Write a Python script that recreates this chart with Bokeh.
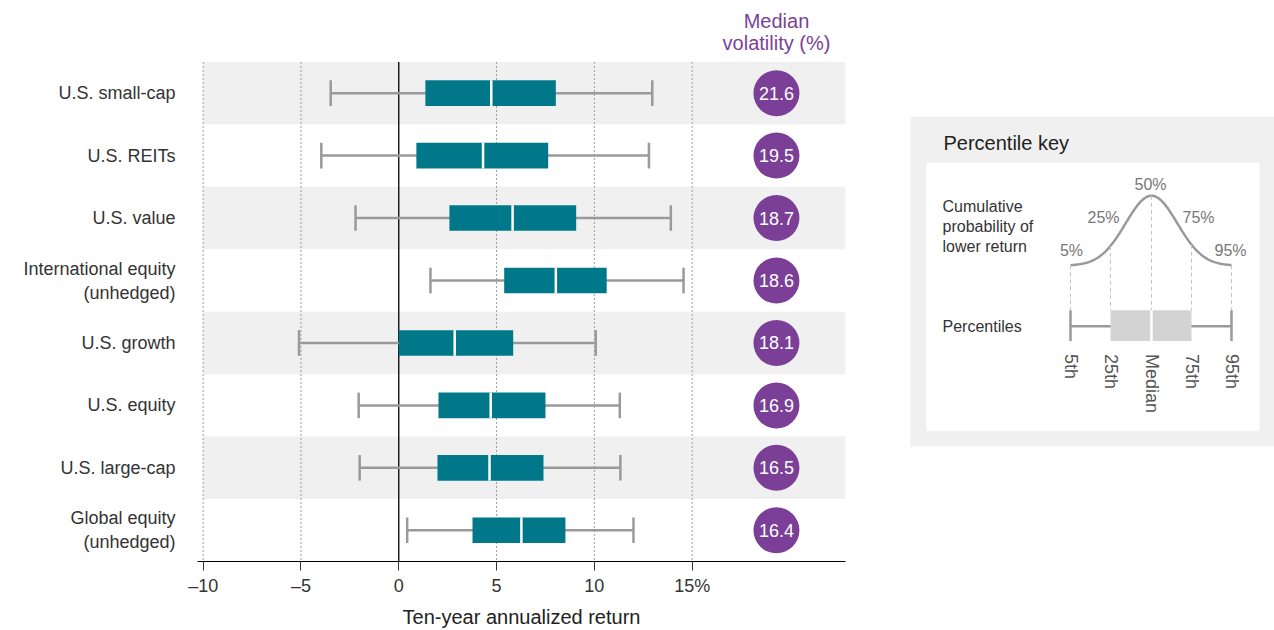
import numpy as np
from bokeh.plotting import figure
from bokeh.models import Range1d, FixedTicker, ColumnDataSource
from bokeh.layouts import row
from bokeh.core.properties import value
from bokeh.embed import file_html
from bokeh.resources import INLINE

# ---------------- data ----------------
categories = ["U.S. small-cap", "U.S. REITs", "U.S. value",
              "International equity\n(unhedged)", "U.S. growth", "U.S. equity",
              "U.S. large-cap", "Global equity\n(unhedged)"]
p5 = [-3.48, -3.96, -2.21, 1.62, -5.1, -2.05, -2.0, 0.43]
p25 = [1.36, 0.90, 2.59, 5.39, 0.0, 2.03, 1.98, 3.77]
p50 = [4.73, 4.31, 5.82, 8.03, 2.86, 4.70, 4.64, 6.27]
p75 = [8.03, 7.64, 9.07, 10.63, 5.85, 7.50, 7.40, 8.52]
p95 = [12.96, 12.79, 13.91, 14.56, 10.07, 11.30, 11.33, 12.0]
volatility = [21.6, 19.5, 18.7, 18.6, 18.1, 16.9, 16.5, 16.4]
x_ticks = [-10, -5, 0, 5, 10, 15]
x_tick_labels = ["\u201310", "\u20135", "0", "5", "10", "15%"]
grid_values = [-10, -5, 5, 10, 15]

# key (schematic) labels
key_pct_labels = ["5%", "25%", "50%", "75%", "95%"]
key_rank_labels = ["5th", "25th", "Median", "75th", "95th"]

FONT = "Liberation Sans"
TEAL = "#00788a"
PURPLE = "#7b3f98"
WHISKER = "#9a9a9a"
BAND = "#f0f0f0"

n = len(categories)
ypos = [i + 0.5 for i in range(n)]
vol_x = 19.31
box_h = 0.41

# ---------------- main chart ----------------
p = figure(width=890, height=630, output_backend="svg", toolbar_location=None,
           title=None, x_range=Range1d(-10.29, 22.84), y_range=Range1d(8, -0.856),
           min_border_left=197, min_border_right=45, min_border_top=8,
           min_border_bottom=67)
p.outline_line_color = None
p.xgrid.visible = False
p.ygrid.visible = False
p.background_fill_color = "white"

band_y = [ypos[i] for i in range(0, n, 2)]
p.hbar(y=band_y, left=-10, right=40, height=1.0, fill_color=BAND, line_color=None)

p.segment(x0=grid_values, x1=grid_values, y0=[0] * len(grid_values), y1=[n] * len(grid_values),
          line_color="#9a9a9a", line_dash="2 2", line_width=1)
p.segment(x0=[0], x1=[0], y0=[0], y1=[n], line_color="black", line_width=1.3)

src = ColumnDataSource(dict(y=ypos, p5=p5, p25=p25, p50=p50, p75=p75, p95=p95,
                            ylo=[y - box_h / 2 for y in ypos], yhi=[y + box_h / 2 for y in ypos],
                            vol=[f"{v:.1f}" for v in volatility], vx=[vol_x] * n))
p.segment(x0="p5", x1="p95", y0="y", y1="y", source=src, line_color=WHISKER, line_width=2.5)
p.segment(x0="p5", x1="p5", y0="ylo", y1="yhi", source=src, line_color=WHISKER, line_width=2.5)
p.segment(x0="p95", x1="p95", y0="ylo", y1="yhi", source=src, line_color=WHISKER, line_width=2.5)
p.hbar(y="y", left="p25", right="p75", height=box_h, source=src, fill_color=TEAL, line_color=None)
p.segment(x0="p50", x1="p50", y0="ylo", y1="yhi", source=src, line_color="white", line_width=2.5)

p.scatter(x="vx", y="y", source=src, marker="circle", size=46, fill_color=PURPLE, line_color=None)
p.text(x="vx", y="y", text="vol", source=src, text_color="white", text_font=value(FONT),
       text_font_size="18px", text_align="center", text_baseline="middle")

p.text(x=[vol_x, vol_x], y=[-0.649, -0.298], text=["Median", "volatility (%)"],
       text_color=PURPLE, text_font=value(FONT), text_font_size="20px",
       text_align="center", text_baseline="middle")

# axes
xa = p.xaxis[0]
xa.ticker = FixedTicker(ticks=x_ticks)
xa.major_label_overrides = {t: l for t, l in zip(x_ticks, x_tick_labels)}
xa.minor_tick_line_color = None
xa.major_tick_out = 9
xa.major_tick_in = 0
xa.major_tick_line_color = "#333333"
xa.axis_line_color = "black"
xa.major_label_text_font = FONT
xa.major_label_text_font_size = "18px"
xa.major_label_text_color = "#333333"
xa.major_label_standoff = 5
xa.axis_label = "Ten-year annualized return"
xa.axis_label_text_font = FONT
xa.axis_label_text_font_size = "20px"
xa.axis_label_text_font_style = "normal"
xa.axis_label_text_color = "#222222"
xa.axis_label_standoff = 7

ya = p.yaxis[0]
ya.ticker = FixedTicker(ticks=ypos)
ya.major_label_overrides = {y: c for y, c in zip(ypos, categories)}
ya.axis_line_color = None
ya.major_tick_line_color = None
ya.minor_tick_line_color = None
ya.major_tick_out = 0
ya.major_tick_in = 0
ya.major_label_standoff = 22
ya.major_label_text_font = FONT
ya.major_label_text_font_size = "18px"
ya.major_label_text_color = "#333333"

# ---------------- percentile key ----------------
# (the row aligns this figure's frame with the main frame: page y 8 .. 563.3)
k = figure(width=384, height=630, output_backend="svg", toolbar_location=None, title=None,
           x_range=Range1d(890, 1274), y_range=Range1d(563.3, 8),
           min_border=0, x_axis_location=None, y_axis_location=None)
k.outline_line_color = None
k.xgrid.visible = False
k.ygrid.visible = False

k.quad(left=[910], right=[1290], top=[116.7], bottom=[447.7], fill_color=BAND, line_color=None)
k.quad(left=[926], right=[1259], top=[163], bottom=[432], fill_color="white", line_color=None)

k.text(x=[943], y=[143], text=["Percentile key"], text_font=value(FONT), text_font_size="20px",
       text_color="#222222", text_baseline="middle", text_align="left")
k.text(x=[942, 942, 942, 942], y=[206.7, 227.3, 247.3, 327],
       text=["Cumulative", "probability of", "lower return", "Percentiles"],
       text_font=value(FONT), text_font_size="16px", text_color="#333333",
       text_baseline="middle", text_align="left")

key_x = [1070, 1110, 1151, 1191, 1231]
cx, half, sig = 1151, 80.5, 25.8
y_tail, y_peak = 265.7, 196.0
g_tail = np.exp(-half ** 2 / (2 * sig ** 2))


def curve_y(x):
    g = np.exp(-(np.asarray(x) - cx) ** 2 / (2 * sig ** 2))
    return y_tail - (y_tail - y_peak) * (g - g_tail) / (1 - g_tail)


xs = np.linspace(key_x[0], key_x[-1], 200)
k.line(xs, curve_y(xs), line_color="#999999", line_width=2.5)

box_top, box_bot, whisk_y = 311, 342, 327
k.segment(x0=key_x, x1=key_x, y0=list(curve_y(key_x)), y1=[box_top] * 5,
          line_color="#c4c4c4", line_dash="4 3", line_width=1)

k.text(x=[1071, 1103, 1150, 1198, 1230], y=[251, 217.7, 185, 217.7, 251], text=key_pct_labels,
       text_font=value(FONT), text_font_size="16px", text_color="#777777",
       text_align="center", text_baseline="middle")

k.segment(x0=[key_x[0]], x1=[key_x[-1]], y0=[whisk_y], y1=[whisk_y], line_color=WHISKER, line_width=2.5)
k.segment(x0=[key_x[0], key_x[-1]], x1=[key_x[0], key_x[-1]], y0=[box_top] * 2, y1=[box_bot] * 2,
          line_color=WHISKER, line_width=2.5)
k.quad(left=[key_x[1]], right=[key_x[3]], top=[box_top], bottom=[box_bot], fill_color="#d3d3d3", line_color=None)
k.segment(x0=[key_x[2]], x1=[key_x[2]], y0=[box_top], y1=[box_bot], line_color="white", line_width=2.5)

k.text(x=key_x, y=[355] * 5, text=key_rank_labels, angle=-np.pi / 2,
       text_font=value(FONT), text_font_size="18px", text_color="#555555",
       text_align="left", text_baseline="middle")

layout = row(p, k)
open("out.html", "w").write(file_html(layout, INLINE))
